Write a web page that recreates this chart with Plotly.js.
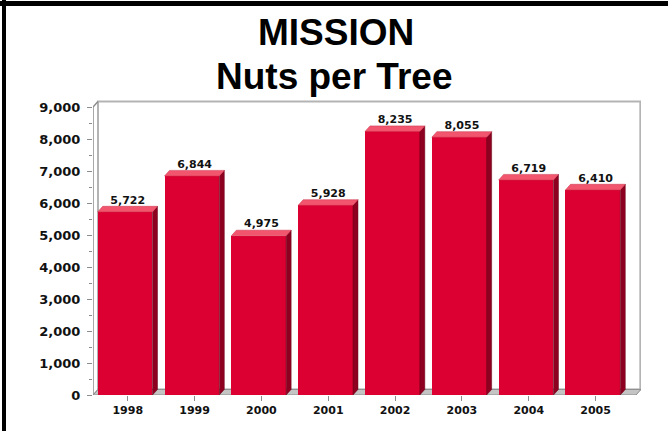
<!DOCTYPE html>
<html>
<head>
<meta charset="utf-8">
<script src="https://cdn.plot.ly/plotly-3.0.1.min.js"></script>
<style>
  html, body { margin: 0; padding: 0; background: #fff; }
  #chart { width: 668px; height: 431px; }
</style>
</head>
<body>
<div id="chart"></div>
<script>
// ---- data ----
const years = ['1998', '1999', '2000', '2001', '2002', '2003', '2004', '2005'];
const nutsPerTree = [5722, 6844, 4975, 5928, 8235, 8055, 6719, 6410];
const yTickValues = [0, 1000, 2000, 3000, 4000, 5000, 6000, 7000, 8000, 9000];
const titleLines = ['MISSION', 'Nuts per Tree'];

// ---- styling / geometry ----
const W = 668, H = 431;
const M = { l: 93, r: 27, t: 99, b: 36 };
const xMin = -0.52, xMax = 7.68;
const yMax = 9250, yTop = 9000;
const depthX = 0.075;      // 3D depth in category units
const depthY = 175;        // 3D depth in value units
const barW = 0.82;
const barShift = -0.04;

const faceColor = '#dc0032';
const topColor = '#f2566e';
const sideColor = '#8e0020';

const idx = years.map((_, i) => i);

// polygons for top and side faces, derived from the data values
const topX = [], topY = [], sideX = [], sideY = [];
nutsPerTree.forEach((v, i) => {
  const x0 = i + barShift - barW / 2, x1 = i + barShift + barW / 2;
  topX.push(x0, x0 + depthX, x1 + depthX, x1, x0, null);
  topY.push(v, v + depthY, v + depthY, v, v, null);
  sideX.push(x1, x1 + depthX, x1 + depthX, x1, x1, null);
  sideY.push(v, v + depthY, depthY, 0, v, null);
});

const traces = [
  {
    type: 'bar', x: idx, y: nutsPerTree,
    width: barW, offset: barShift - barW / 2,
    marker: { color: faceColor, line: { width: 0 } },
    hoverinfo: 'skip'
  },
  {
    type: 'scatter', mode: 'lines', x: sideX, y: sideY,
    fill: 'toself', fillcolor: sideColor,
    line: { width: 0.5, color: '#6a0018' }, hoverinfo: 'skip'
  },
  {
    type: 'scatter', mode: 'lines', x: topX, y: topY,
    fill: 'toself', fillcolor: topColor,
    line: { width: 0.5, color: '#c83048' }, hoverinfo: 'skip'
  },
  {
    type: 'scatter', mode: 'text', x: idx, y: nutsPerTree.map(v => v + depthY),
    text: nutsPerTree.map(v => v.toLocaleString('en-US')),
    textposition: 'top center',
    textfont: { family: 'DejaVu Sans', size: 11, color: '#111', weight: 700 },
    cliponaxis: false, hoverinfo: 'skip'
  }
];

const pw = W - M.l - M.r, ph = H - M.t - M.b;
const px = p => (p - M.l) / pw;
const py = p => (H - M.b - p) / ph;

const shapes = [
  // back wall
  { type: 'rect', layer: 'below', xref: 'x', yref: 'y',
    x0: xMin + depthX, x1: xMax - 0.01, y0: depthY, y1: yTop + depthY,
    fillcolor: '#ffffff', line: { color: '#b4b4b4', width: 2 } },
  // floor
  { type: 'path', layer: 'below', xref: 'x', yref: 'y',
    path: `M ${xMin} 0 L ${xMax - depthX} 0 L ${xMax} ${depthY} L ${xMin + depthX} ${depthY} Z`,
    fillcolor: '#c4c4c4', line: { color: '#8c8c8c', width: 1 } },
  // left wall edge (front axis)
  { type: 'path', layer: 'below', xref: 'x', yref: 'y',
    path: `M ${xMin} 0 L ${xMin} ${yTop} L ${xMin + depthX} ${yTop + depthY}`,
    line: { color: '#8c8c8c', width: 1.5 } },
  { type: 'line', layer: 'below', xref: 'x', yref: 'y',
    x0: xMin, x1: xMin + depthX, y0: 0, y1: depthY,
    line: { color: '#8c8c8c', width: 1 } },
  // black frame lines (top and left)
  { type: 'line', xref: 'paper', yref: 'paper',
    x0: px(0), x1: px(W), y0: py(3.5), y1: py(3.5),
    line: { color: '#000', width: 5 } },
  { type: 'line', xref: 'paper', yref: 'paper',
    x0: px(4), x1: px(4), y0: py(0), y1: py(H),
    line: { color: '#000', width: 4 } }
];

const titleFont = { family: 'Liberation Sans, Arial', size: 37, color: '#000', weight: 700 };
const annotations = [
  { text: titleLines[0], xref: 'paper', yref: 'paper', x: px(336), y: py(33),
    xanchor: 'center', yanchor: 'middle', showarrow: false, font: titleFont },
  { text: titleLines[1], xref: 'paper', yref: 'paper', x: px(334), y: py(76),
    xanchor: 'center', yanchor: 'middle', showarrow: false, font: titleFont }
];

const layout = {
  width: W, height: H,
  margin: M,
  paper_bgcolor: '#ffffff', plot_bgcolor: 'rgba(0,0,0,0)',
  showlegend: false,
  xaxis: {
    range: [xMin, xMax], showgrid: false, zeroline: false, showline: false,
    tickmode: 'array', tickvals: idx, ticktext: years,
    ticks: 'outside', ticklen: 5, tickcolor: '#8c8c8c', tickwidth: 1,
    tickfont: { family: 'DejaVu Sans', size: 11, color: '#111', weight: 700 },
    fixedrange: true
  },
  yaxis: {
    range: [0, yMax], showgrid: false, zeroline: false, showline: false,
    tickmode: 'array', tickvals: yTickValues, tickformat: ',d',
    ticks: 'outside', ticklen: 5, tickcolor: '#8c8c8c', tickwidth: 1,
    ticklabelstandoff: 4,
    minor: { tickmode: 'array', tickvals: yTickValues.slice(0, -1).map(v => v + 500),
             ticks: 'outside', ticklen: 3, tickcolor: '#8c8c8c', showgrid: false },
    tickfont: { family: 'DejaVu Sans', size: 13, color: '#111', weight: 700 },
    fixedrange: true
  },
  shapes: shapes,
  annotations: annotations,
  bargap: 0
};

Plotly.newPlot('chart', traces, layout, { displayModeBar: false, staticPlot: true });
</script>
</body>
</html>
